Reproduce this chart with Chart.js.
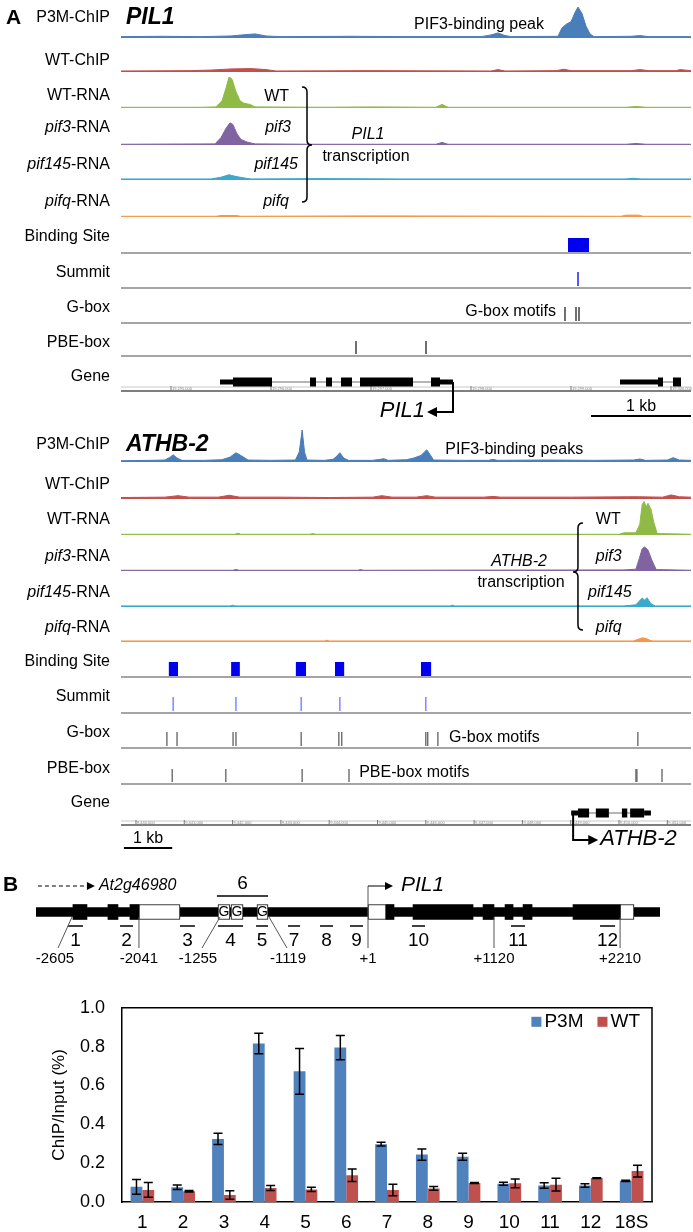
<!DOCTYPE html>
<html>
<head>
<meta charset="utf-8">
<title>PIF3 binding at PIL1 and ATHB-2</title>
<script src="https://cdn.jsdelivr.net/npm/chart.js@4.4.1/dist/chart.umd.min.js"></script>
<style>
  html, body { margin: 0; padding: 0; background: #fff; }
  body { width: 693px; height: 1232px; position: relative; overflow: hidden; }
  .panel { position: absolute; left: 0; width: 693px; }
</style>
</head>
<body>
<div class="panel" style="top:0;height:425px"><canvas id="pil1Tracks"></canvas></div>
<div class="panel" style="top:425px;height:440px"><canvas id="athbTracks"></canvas></div>
<div class="panel" style="top:870px;height:110px"><canvas id="pil1Map"></canvas></div>
<div class="panel" style="top:980px;height:252px"><canvas id="chipBars"></canvas></div>
<script>
"use strict";

// ---------- panel A : browser tracks (positions in kb) ----------
const trackNames = ['P3M-ChIP', 'WT-ChIP', 'WT-RNA', 'pif3-RNA', 'pif145-RNA', 'pifq-RNA',
  'Binding Site', 'Summit', 'G-box', 'PBE-box', 'Gene'];
const coverageColors = ['#4a7ebb', '#c0504d', '#8fba45', '#8064a2', '#3aa9cb', '#f79646'];

// PIL1, chr2
const pil1Range = [19294.5, 19300.2];
const pil1Ruler = [19295, 19296, 19297, 19298, 19299, 19300];
const pil1P3M = [[19294.5,0.04],[19294.9,0.05],[19295.3,0.04],[19295.6,0.06],[19295.75,0.1],[19295.84,0.12],
  [19295.95,0.06],[19296.1,0.04],[19296.8,0.05],[19297.4,0.04],[19298.1,0.04],[19298.2,0.09],[19298.27,0.15],
  [19298.33,0.08],[19298.4,0.04],[19298.87,0.05],[19298.91,0.3],[19298.96,0.42],[19299.0,0.48],[19299.04,0.75],
  [19299.07,0.91],[19299.11,0.72],[19299.15,0.35],[19299.19,0.12],[19299.23,0.04],[19299.6,0.05],[19299.69,0.07],
  [19299.78,0.04],[19300.2,0.04]];
const pil1WTChIP = [[19294.5,0.03],[19295.2,0.04],[19295.42,0.06],[19295.6,0.09],[19295.8,0.1],[19295.95,0.07],
  [19296.05,0.03],[19297.0,0.04],[19298.2,0.03],[19298.27,0.07],[19298.34,0.03],[19298.85,0.04],[19298.93,0.08],
  [19299.0,0.04],[19299.6,0.04],[19299.69,0.07],[19299.78,0.04],[19300.05,0.04],[19300.09,0.07],[19300.2,0.04]];
const pil1WTRNA = [[19294.5,0.02],[19295.3,0.02],[19295.45,0.03],[19295.51,0.2],[19295.55,0.55],[19295.58,0.86],
  [19295.61,0.8],[19295.65,0.45],[19295.69,0.2],[19295.73,0.13],[19295.79,0.1],[19295.84,0.03],[19296.5,0.02],
  [19297.0,0.03],[19297.65,0.02],[19297.71,0.1],[19297.77,0.02],[19299.55,0.02],[19299.65,0.04],[19299.75,0.02],
  [19300.2,0.02]];
const pil1Pif3RNA = [[19294.5,0.02],[19295.44,0.03],[19295.5,0.2],[19295.55,0.45],[19295.59,0.6],[19295.62,0.55],
  [19295.66,0.3],[19295.7,0.15],[19295.76,0.08],[19295.84,0.03],[19296.4,0.02],[19297.65,0.02],[19297.71,0.07],
  [19297.77,0.02],[19299.55,0.02],[19299.65,0.04],[19299.75,0.02],[19300.2,0.02]];
const pil1Pif145RNA = [[19294.5,0.03],[19295.4,0.03],[19295.5,0.08],[19295.58,0.15],[19295.65,0.1],[19295.75,0.05],
  [19295.8,0.03],[19296.5,0.04],[19297.3,0.03],[19299.55,0.03],[19299.62,0.05],[19299.7,0.03],[19300.2,0.03]];
const pil1PifqRNA = [[19294.5,0.02],[19295.45,0.02],[19295.5,0.04],[19295.65,0.04],[19295.7,0.02],[19297.0,0.03],
  [19299.5,0.02],[19299.55,0.05],[19299.68,0.05],[19299.72,0.02],[19300.2,0.02]];
const pil1Sites = [[19298.97, 19299.18]];
const pil1Summits = [19299.07];
const pil1Gbox = [19298.94, 19299.05, 19299.08];
const pil1Pbe = [19296.85, 19297.55];
const pil1GeneSpans = [[19295.49, 19297.82], [19299.49, 19300.10]];
const pil1Utr = [[19295.49, 19295.62], [19297.69, 19297.82], [19299.49, 19299.87]];
const pil1Cds = [[19295.62, 19296.01], [19296.39, 19296.45], [19296.55, 19296.61], [19296.70, 19296.81],
  [19296.89, 19297.42], [19297.60, 19297.69], [19299.87, 19299.92], [19300.02, 19300.10]];

// ATHB-2, chr4
const athbRange = [9439.69, 9451.49];
const athbRuler = [9440, 9441, 9442, 9443, 9444, 9445, 9446, 9447, 9448, 9449, 9450, 9451];
const athbP3M = [[9439.69,0.04],[9440.3,0.05],[9440.6,0.06],[9440.7,0.14],[9440.77,0.22],[9440.85,0.12],
  [9440.95,0.05],[9441.4,0.05],[9441.78,0.07],[9441.95,0.15],[9442.07,0.28],[9442.17,0.2],[9442.32,0.06],
  [9442.8,0.05],[9443.3,0.06],[9443.38,0.3],[9443.44,0.97],[9443.49,0.3],[9443.54,0.06],[9443.9,0.05],
  [9444.08,0.08],[9444.16,0.18],[9444.22,0.28],[9444.3,0.12],[9444.4,0.05],[9444.9,0.05],[9445.05,0.08],
  [9445.13,0.1],[9445.22,0.05],[9445.6,0.07],[9445.75,0.12],[9445.9,0.2],[9446.02,0.37],[9446.1,0.2],
  [9446.16,0.06],[9446.8,0.05],[9447.3,0.05],[9447.39,0.08],[9447.48,0.05],[9448.5,0.06],[9449.5,0.05],
  [9450.3,0.06],[9450.43,0.09],[9450.55,0.05],[9451.0,0.06],[9451.12,0.13],[9451.25,0.06],[9451.49,0.05]];
const athbWTChIP = [[9439.69,0.04],[9440.6,0.05],[9440.87,0.09],[9441.1,0.05],[9441.7,0.05],[9441.93,0.1],
  [9442.15,0.05],[9443.0,0.05],[9444.0,0.04],[9444.9,0.05],[9445.09,0.09],[9445.3,0.05],[9445.8,0.05],
  [9446.02,0.09],[9446.2,0.05],[9447.2,0.05],[9447.39,0.07],[9447.55,0.05],[9449.0,0.05],[9450.2,0.06],
  [9450.43,0.06],[9450.9,0.05],[9451.08,0.11],[9451.25,0.06],[9451.49,0.05]];
const athbWTRNA = [[9439.69,0.02],[9442.05,0.02],[9442.11,0.05],[9442.17,0.02],[9443.6,0.02],[9443.66,0.04],
  [9443.72,0.02],[9450.0,0.02],[9450.1,0.06],[9450.35,0.06],[9450.43,0.3],[9450.48,0.85],[9450.52,0.93],
  [9450.56,0.78],[9450.6,0.88],[9450.66,0.72],[9450.72,0.35],[9450.79,0.04],[9451.49,0.02]];
const athbPif3RNA = [[9439.69,0.02],[9442.0,0.02],[9442.07,0.04],[9442.14,0.02],[9444.6,0.02],[9444.65,0.04],
  [9444.7,0.02],[9450.1,0.03],[9450.35,0.05],[9450.42,0.35],[9450.48,0.62],[9450.53,0.67],[9450.6,0.58],
  [9450.68,0.3],[9450.77,0.04],[9451.49,0.02]];
const athbPif145RNA = [[9439.69,0.03],[9441.95,0.03],[9442.0,0.05],[9442.05,0.03],[9446.5,0.03],[9446.55,0.05],
  [9446.6,0.03],[9450.1,0.03],[9450.35,0.06],[9450.41,0.15],[9450.48,0.25],[9450.53,0.19],[9450.58,0.26],
  [9450.66,0.09],[9450.75,0.03],[9451.49,0.03]];
const athbPifqRNA = [[9439.69,0.03],[9443.9,0.03],[9443.95,0.05],[9444.0,0.03],[9450.3,0.03],[9450.4,0.08],
  [9450.48,0.12],[9450.56,0.1],[9450.64,0.05],[9450.7,0.03],[9451.49,0.03]];
const athbSites = [[9440.68, 9440.87], [9441.97, 9442.15], [9443.31, 9443.52], [9444.12, 9444.31], [9445.90, 9446.11]];
const athbSummits = [9440.77, 9442.07, 9443.42, 9444.22, 9446.00];
const athbGbox = [9440.64, 9440.85, 9442.01, 9442.07, 9443.42, 9444.20, 9444.26, 9446.00, 9446.04, 9446.25, 9450.39];
const athbPbe = [9440.75, 9441.86, 9443.44, 9444.41, 9450.35, 9450.37, 9450.89];
const athbGeneSpans = [[9449.01, 9450.66]];
const athbUtr = [[9449.01, 9449.15], [9450.52, 9450.66]];
const athbCds = [[9449.15, 9449.38], [9449.52, 9449.79], [9450.06, 9450.17], [9450.23, 9450.52]];

// ---------- panel B : PIL1 promoter map (bp from TSS, schematic) ----------
const mapRange = [-2912, 2561];
const mapExons = [[-2588,-2465], [-2281,-2193], [-2088,-2009], [158,228], [395,921], [1009,1105],
  [1202,1272], [1360,1439], [1798,2211]];
const mapUtrs = [[-2009,-1649], [0,158], [2211,2333]];
const mapGboxes = [[-1316,-1211], [-1202,-1096], [-974,-877]];
const ampliconNames = ['1', '2', '3', '4', '5', '7', '8', '9', '10', '11', '12'];
const ampliconSpans = [[-2632,-2500], [-2175,-2061], [-1649,-1518], [-1316,-1096], [-982,-877], [-702,-596],
  [-421,-307], [-158,-44], [386,500], [1254,1377], [2035,2167]];
const amplicon6 = [-1325, -877];
const siteNames = ['-2605', '-2041', '-1255', '-1119', '+1', '+1120', '+2210'];
const siteOnGene = [-2596, -2009, -1298, -868, 0, 1105, 2211];
const siteOnLabel = [-2719, -2009, -1456, -711, 0, 1105, 2211];
const siteLabelX = [-2746, -2009, -1491, -702, 0, 1105, 2211];
const upstreamArrow = [-2895, -2395];
const pil1Arrow = [0, 219];

// ---------- panel B : ChIP-qPCR ----------
const primers = ['1', '2', '3', '4', '5', '6', '7', '8', '9', '10', '11', '12', '18S'];
const p3mMean = [0.078, 0.076, 0.325, 0.816, 0.673, 0.795, 0.298, 0.244, 0.233, 0.094, 0.085, 0.085, 0.109];
const p3mErr  = [0.038, 0.011, 0.029, 0.053, 0.118, 0.062, 0.010, 0.029, 0.018, 0.008, 0.014, 0.009, 0.003];
const wtMean  = [0.062, 0.055, 0.036, 0.072, 0.065, 0.138, 0.062, 0.070, 0.098, 0.096, 0.089, 0.123, 0.159];
const wtErr   = [0.038, 0.004, 0.022, 0.013, 0.011, 0.032, 0.030, 0.010, 0.003, 0.022, 0.033, 0.002, 0.030];

const FONT = '"Liberation Sans", Arial, Helvetica, sans-serif';
Chart.defaults.font.family = FONT;
Chart.defaults.color = '#000';
Chart.defaults.animation = false;

// =============================================================
// drawing helpers
// =============================================================
function drawText(ctx, parts, x, y, align, size) {
  const fonts = parts.map(p => `${p[1]} ${size}px ${FONT}`);
  let total = 0;
  const widths = parts.map((p, i) => {
    ctx.font = fonts[i];
    const w = ctx.measureText(p[0]).width;
    total += w;
    return w;
  });
  let cx = align === 'right' ? x - total : align === 'center' ? x - total / 2 : x;
  ctx.fillStyle = '#000';
  ctx.textAlign = 'left';
  ctx.textBaseline = 'middle';
  parts.forEach((p, i) => {
    ctx.font = fonts[i];
    ctx.fillText(p[0], cx, y);
    cx += widths[i];
  });
}

function line(ctx, x1, y1, x2, y2, color, w) {
  ctx.strokeStyle = color;
  ctx.lineWidth = w;
  ctx.beginPath();
  ctx.moveTo(x1, y1);
  ctx.lineTo(x2, y2);
  ctx.stroke();
}

function arrowHead(ctx, x, y, dir, size) {
  ctx.fillStyle = '#000';
  ctx.beginPath();
  ctx.moveTo(x, y);
  ctx.lineTo(x - dir * size, y - size * 0.5);
  ctx.lineTo(x - dir * size, y + size * 0.5);
  ctx.closePath();
  ctx.fill();
}

function drawBrace(ctx, x, y1, y2, ym, dir) {
  const w = 5;
  ctx.strokeStyle = '#000';
  ctx.lineWidth = 1.5;
  ctx.beginPath();
  ctx.moveTo(x - dir * w, y1);
  ctx.quadraticCurveTo(x, y1, x, y1 + w);
  ctx.lineTo(x, ym - w);
  ctx.quadraticCurveTo(x, ym, x + dir * w, ym);
  ctx.quadraticCurveTo(x, ym, x, ym + w);
  ctx.lineTo(x, y2 - w);
  ctx.quadraticCurveTo(x, y2, x - dir * w, y2);
  ctx.stroke();
}

function nameParts(name) {
  if (!name.startsWith('pif')) return [[name, '']];
  const k = name.indexOf('-');
  return [[name.slice(0, k), 'italic'], [name.slice(k), '']];
}

// =============================================================
// browser track layer: labels, features, gene model, ruler
// =============================================================
function trackLayer(o) {
  return {
    id: 'trackLayer',
    afterDraw(chart) {
      const ctx = chart.ctx;
      const xs = chart.scales.x;
      const X = v => xs.getPixelForValue(v);
      const base = i => chart.scales['t' + i].bottom;
      const L = xs.left, R = xs.right;
      ctx.save();

      if (o.letter) drawText(ctx, [[o.letter, 'bold']], 6, base(0) - o.labelDy[0], 'left', 21);
      drawText(ctx, [[o.title, 'italic bold']], L + 5, base(0) - o.labelDy[0], 'left', 23);
      trackNames.forEach((name, i) => drawText(ctx, nameParts(name), 110, base(i) - o.labelDy[i], 'right', 16));

      for (let i = 6; i <= 9; i++) line(ctx, L, base(i), R, base(i), '#a5a5a5', 2);

      ctx.fillStyle = '#0000f0';
      o.sites.forEach(s => ctx.fillRect(X(s[0]), base(6) - 15, X(s[1]) - X(s[0]), 14));
      o.summits.forEach(s => line(ctx, X(s), base(7) - 16, X(s), base(7) - 2, o.summitColor, 1.5));
      o.gbox.forEach(s => line(ctx, X(s), base(8) - 16, X(s), base(8) - 2, o.tickColor, 1.3));
      o.pbe.forEach(s => line(ctx, X(s), base(9) - 15, X(s), base(9) - 2, o.tickColor, 1.3));

      // coordinate ruler
      const rb = base(10);
      line(ctx, L, rb - 4, R, rb - 4, '#c9c9c9', 1);
      line(ctx, L, rb, R, rb, '#555', 1.5);
      o.ruler.forEach(t => {
        line(ctx, X(t), rb - 5, X(t), rb, '#777', 1);
        ctx.fillStyle = '#888';
        ctx.font = `4px ${FONT}`;
        ctx.textAlign = 'left';
        ctx.textBaseline = 'bottom';
        ctx.fillText(Math.round(t * 1000).toLocaleString('en-US'), X(t) + 1, rb - 0.5);
      });

      // gene model
      const gy = rb - o.geneDy;
      o.geneSpans.forEach(s => line(ctx, X(s[0]), gy, X(s[1]), gy, '#b5b5b5', 2));
      ctx.fillStyle = '#000';
      o.utr.forEach(s => ctx.fillRect(X(s[0]), gy - 2.5, X(s[1]) - X(s[0]), 5));
      ctx.fillStyle = '#000';
      o.cds.forEach(s => ctx.fillRect(X(s[0]), gy - 4.5, X(s[1]) - X(s[0]), 9));

      // transcription start arrow
      const tx = X(o.tss[0]), ex = X(o.tss[1]), dir = Math.sign(ex - tx), ay = gy + o.tssDrop;
      ctx.strokeStyle = '#000';
      ctx.lineWidth = 2;
      ctx.beginPath();
      ctx.moveTo(tx, gy);
      ctx.lineTo(tx, ay);
      ctx.lineTo(ex - dir * 7, ay);
      ctx.stroke();
      arrowHead(ctx, ex, ay, dir, 10);
      drawText(ctx, [[o.title, 'italic']], ex + dir * 2, ay - 1, dir < 0 ? 'right' : 'left', 22);

      // 1 kb bar
      line(ctx, X(o.kbBar), rb + o.kbDy[0], X(o.kbBar + 1), rb + o.kbDy[0], '#000', 2);
      drawText(ctx, [['1 kb', '']], X(o.kbBar + 0.5), rb + o.kbDy[1], 'center', 16);

      o.notes.forEach(n => drawText(ctx, [[n.text, n.style || '']], X(n.x), base(n.track) - n.dy, n.align, 16));

      const b = o.brace;
      drawBrace(ctx, X(b.x), base(b.top[0]) - b.top[1], base(b.bottom[0]) - b.bottom[1], base(b.tip[0]) - b.tip[1], b.dir);
      ctx.restore();
    }
  };
}

function buildTracks(canvasId, o) {
  const scales = { x: { type: 'linear', min: o.range[0], max: o.range[1], display: false } };
  o.weights.forEach((w, i) => {
    scales['t' + i] = { type: 'linear', position: 'right', stack: 'browser', stackWeight: w, weight: i,
      min: 0, max: 1, display: false };
  });
  const datasets = o.coverage.map((pts, i) => ({
    label: trackNames[i],
    data: pts.map(p => ({ x: p[0], y: p[1] })),
    yAxisID: 't' + i,
    borderColor: coverageColors[i],
    backgroundColor: coverageColors[i],
    borderWidth: 1,
    pointRadius: 0,
    fill: 'origin',
    tension: 0
  }));
  return new Chart(document.getElementById(canvasId), {
    type: 'line',
    data: { datasets },
    options: {
      responsive: true,
      maintainAspectRatio: false,
      events: [],
      layout: { padding: o.padding },
      plugins: { legend: { display: false }, tooltip: { enabled: false } },
      scales
    },
    plugins: [trackLayer(o)]
  });
}

buildTracks('pil1Tracks', {
  letter: 'A', title: 'PIL1',
  range: pil1Range, ruler: pil1Ruler,
  coverage: [pil1P3M, pil1WTChIP, pil1WTRNA, pil1Pif3RNA, pil1Pif145RNA, pil1PifqRNA],
  sites: pil1Sites, summits: pil1Summits, gbox: pil1Gbox, pbe: pil1Pbe,
  geneSpans: pil1GeneSpans, utr: pil1Utr, cds: pil1Cds,
  tss: [19297.82, 19297.56], tssDrop: 30, geneDy: 9,
  kbBar: 19299.2, kbDy: [25, 16],
  summitColor: '#1f1fff', tickColor: '#222',
  weights: [34, 34, 36, 37, 35, 37, 36, 35, 35, 33, 35],
  labelDy: [20, 11, 12, 17, 15, 15, 16, 15, 15, 13, 14],
  padding: { left: 121, right: 2, top: 4, bottom: 34 },
  notes: [
    { text: 'PIF3-binding peak', x: 19298.08, track: 0, dy: 13, align: 'center' },
    { text: 'WT', x: 19296.18, track: 2, dy: 11, align: 'right' },
    { text: 'pif3', x: 19296.2, track: 3, dy: 17, align: 'right', style: 'italic' },
    { text: 'pif145', x: 19296.27, track: 4, dy: 15, align: 'right', style: 'italic' },
    { text: 'pifq', x: 19296.18, track: 5, dy: 15, align: 'right', style: 'italic' },
    { text: 'PIL1', x: 19296.97, track: 3, dy: 10, align: 'center', style: 'italic' },
    { text: 'transcription', x: 19296.95, track: 4, dy: 23, align: 'center' },
    { text: 'G-box motifs', x: 19298.85, track: 8, dy: 11, align: 'right' }
  ],
  brace: { x: 19296.36, top: [2, 21], bottom: [5, 15], tip: [3, 0], dir: 1 }
});

buildTracks('athbTracks', {
  letter: '', title: 'ATHB-2',
  range: athbRange, ruler: athbRuler,
  coverage: [athbP3M, athbWTChIP, athbWTRNA, athbPif3RNA, athbPif145RNA, athbPifqRNA],
  sites: athbSites, summits: athbSummits, gbox: athbGbox, pbe: athbPbe,
  geneSpans: athbGeneSpans, utr: athbUtr, cds: athbCds,
  tss: [9449.05, 9449.57], tssDrop: 27, geneDy: 12,
  kbBar: 9439.75, kbDy: [23, 14],
  summitColor: '#8585ff', tickColor: '#606060',
  weights: [33, 37, 36, 36, 36, 35, 35, 36, 35, 36, 41],
  labelDy: [17, 14, 15, 14, 14, 14, 15, 16, 15, 15, 22],
  padding: { left: 121, right: 2, top: 4, bottom: 40 },
  notes: [
    { text: 'PIF3-binding peaks', x: 9447.83, track: 0, dy: 12, align: 'center' },
    { text: 'WT', x: 9449.52, track: 2, dy: 15, align: 'left' },
    { text: 'pif3', x: 9449.52, track: 3, dy: 14, align: 'left', style: 'italic' },
    { text: 'pif145', x: 9449.36, track: 4, dy: 14, align: 'left', style: 'italic' },
    { text: 'pifq', x: 9449.52, track: 5, dy: 14, align: 'left', style: 'italic' },
    { text: 'ATHB-2', x: 9447.93, track: 3, dy: 9, align: 'center', style: 'italic' },
    { text: 'transcription', x: 9447.97, track: 4, dy: 24, align: 'center' },
    { text: 'G-box motifs', x: 9446.48, track: 8, dy: 10, align: 'left' },
    { text: 'PBE-box motifs', x: 9444.62, track: 9, dy: 11, align: 'left' }
  ],
  brace: { x: 9449.15, top: [2, 12], bottom: [5, 12], tip: [3, -1], dir: -1 }
});

// =============================================================
// panel B map: gene parts as floating bars
// =============================================================
const box = (span, fill, thick, order) => ({
  data: [span], backgroundColor: fill, borderColor: '#000', borderWidth: fill === '#fff' ? 1 : 0,
  borderSkipped: false, barThickness: thick, grouped: false, order
});

const mapLayer = {
  id: 'mapLayer',
  afterDraw(chart) {
    const ctx = chart.ctx;
    const xs = chart.scales.x;
    const X = v => xs.getPixelForValue(v);
    const cy = chart.scales.y.getPixelForValue(0);
    ctx.save();

    drawText(ctx, [['B', 'bold']], 3, cy - 27, 'left', 21);

    // G-box letters
    mapGboxes.forEach(g => {
      ctx.font = `14px ${FONT}`;
      ctx.textAlign = 'center';
      ctx.textBaseline = 'middle';
      ctx.fillStyle = '#000';
      ctx.fillText('G', X((g[0] + g[1]) / 2), cy + 0.5);
    });

    // amplicons
    ampliconSpans.forEach((s, i) => {
      line(ctx, X(s[0]), cy + 14, X(s[1]), cy + 14, '#000', 1.5);
      drawText(ctx, [[ampliconNames[i], '']], X((s[0] + s[1]) / 2), cy + 29, 'center', 19);
    });
    line(ctx, X(amplicon6[0]), cy - 16, X(amplicon6[1]), cy - 16, '#000', 1.5);
    drawText(ctx, [['6', '']], X((amplicon6[0] + amplicon6[1]) / 2), cy - 28, 'center', 19);

    // coordinates
    siteNames.forEach((name, i) => {
      const top = name === '+1' ? cy - 26 : cy + 5;
      line(ctx, X(siteOnLabel[i]), cy + 36, X(siteOnGene[i]), top, '#555', 1);
      drawText(ctx, [[name, '']], X(siteLabelX[i]), cy + 47, 'center', 15);
    });

    // upstream gene arrow (dashed)
    ctx.setLineDash([4, 3]);
    line(ctx, X(upstreamArrow[0]), cy - 26, X(upstreamArrow[1]) - 6, cy - 26, '#000', 1);
    ctx.setLineDash([]);
    arrowHead(ctx, X(upstreamArrow[1]), cy - 26, 1, 8);
    drawText(ctx, [['At2g46980', 'italic']], X(upstreamArrow[1]) + 4, cy - 26, 'left', 16);

    // PIL1 start arrow
    line(ctx, X(pil1Arrow[0]), cy - 26, X(pil1Arrow[1]) - 6, cy - 26, '#000', 1);
    arrowHead(ctx, X(pil1Arrow[1]), cy - 26, 1, 8);
    drawText(ctx, [['PIL1', 'italic']], X(pil1Arrow[1]) + 8, cy - 27, 'left', 21);
    ctx.restore();
  }
};

new Chart(document.getElementById('pil1Map'), {
  type: 'bar',
  data: {
    labels: ['PIL1 locus'],
    datasets: [
      box(mapRange, '#000', 9, 3),
      ...mapExons.map(e => box(e, '#000', 15, 2)),
      ...mapUtrs.map(e => box(e, '#fff', 15, 1)),
      ...mapGboxes.map(e => box(e, '#fff', 15, 1))
    ]
  },
  options: {
    indexAxis: 'y',
    responsive: true,
    maintainAspectRatio: false,
    events: [],
    layout: { padding: { left: 36, right: 33, top: 30, bottom: 56 } },
    plugins: { legend: { display: false }, tooltip: { enabled: false } },
    scales: {
      x: { type: 'linear', min: mapRange[0], max: mapRange[1], display: false },
      y: { display: false }
    }
  },
  plugins: [mapLayer]
});

// =============================================================
// ChIP-qPCR bars with error bars, frame and legend
// =============================================================
const barLayer = {
  id: 'barLayer',
  afterDatasetsDraw(chart) {
    const ctx = chart.ctx, ys = chart.scales.y;
    ctx.save();
    ctx.strokeStyle = '#000';
    ctx.lineWidth = 1.5;
    [p3mErr, wtErr].forEach((errs, d) => {
      const vals = chart.data.datasets[d].data;
      chart.getDatasetMeta(d).data.forEach((bar, j) => {
        const hi = ys.getPixelForValue(vals[j] + errs[j]);
        const lo = ys.getPixelForValue(vals[j] - errs[j]);
        ctx.beginPath();
        ctx.moveTo(bar.x, hi); ctx.lineTo(bar.x, lo);
        ctx.moveTo(bar.x - 4.5, hi); ctx.lineTo(bar.x + 4.5, hi);
        ctx.moveTo(bar.x - 4.5, lo); ctx.lineTo(bar.x + 4.5, lo);
        ctx.stroke();
      });
    });
    ctx.restore();
  },
  afterDraw(chart) {
    const { ctx, chartArea: a } = chart;
    ctx.save();
    ctx.strokeStyle = '#000';
    ctx.lineWidth = 1.5;
    ctx.beginPath();
    ctx.moveTo(a.left, a.top);
    ctx.lineTo(a.right, a.top);
    ctx.lineTo(a.right, a.bottom);
    ctx.stroke();

    ctx.font = `19px ${FONT}`;
    ctx.textBaseline = 'middle';
    ctx.textAlign = 'left';
    let x = a.right - 12;
    const y = a.top + 14;
    chart.data.datasets.slice().reverse().forEach(ds => {
      x -= ctx.measureText(ds.label).width;
      ctx.fillStyle = '#000';
      ctx.fillText(ds.label, x, y);
      x -= 13;
      ctx.fillStyle = ds.backgroundColor;
      ctx.fillRect(x, y - 5, 10, 10);
      x -= 14;
    });
    ctx.restore();
  }
};

new Chart(document.getElementById('chipBars'), {
  type: 'bar',
  data: {
    labels: primers,
    datasets: [
      { label: 'P3M', data: p3mMean, backgroundColor: '#4f81bd', categoryPercentage: 0.58, barPercentage: 1 },
      { label: 'WT', data: wtMean, backgroundColor: '#c0504d', categoryPercentage: 0.58, barPercentage: 1 }
    ]
  },
  options: {
    responsive: true,
    maintainAspectRatio: false,
    events: [],
    layout: { padding: { left: 40, right: 41, top: 16, bottom: 0 } },
    plugins: { legend: { display: false }, tooltip: { enabled: false } },
    scales: {
      x: {
        grid: { display: false, drawTicks: false },
        border: { color: '#000', width: 1.5 },
        ticks: { padding: 9, font: { size: 19 }, color: '#000', maxRotation: 0 },
        afterFit: s => { s.height = 30; }
      },
      y: {
        min: 0, max: 1,
        grid: { display: false, drawTicks: false },
        border: { color: '#000', width: 1.5 },
        ticks: { stepSize: 0.2, padding: 17, font: { size: 18 }, color: '#000', callback: v => v.toFixed(1) },
        title: { display: true, text: 'ChIP/Input (%)', font: { size: 17 }, color: '#000', padding: { top: 9, bottom: 0 } },
        afterFit: s => { s.width = 82; }
      }
    }
  },
  plugins: [barLayer]
});
</script>
</body>
</html>
